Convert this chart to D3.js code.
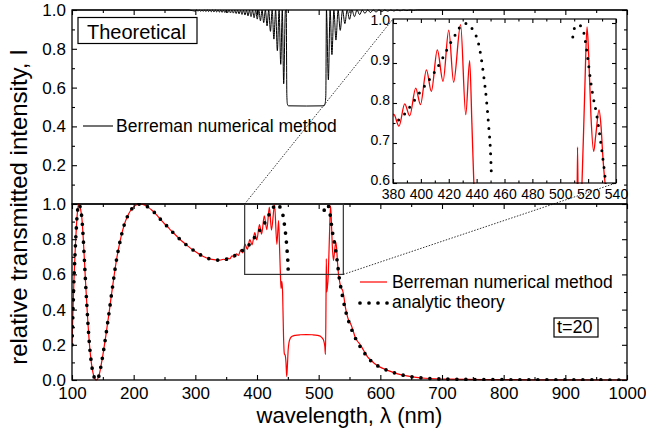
<!DOCTYPE html>
<html>
<head>
<meta charset="utf-8">
<script src="https://cdn.jsdelivr.net/npm/d3@7"></script>
<style>
  body { margin: 0; background: #fff; }
  svg { font-family: Arial, "Liberation Sans", sans-serif; }
</style>
</head>
<body>
<svg id="chart" width="646" height="437"></svg>
<script>
// ---- data ----
// top panel: Berreman numerical method, theoretical curve [wavelength nm, I]
const berremanTheory = [
  [100,1],[290,1],
  [300,0.994],[302.2,1],[304.3,0.994],[306.5,1],[308.6,0.993],[310.8,1],[312.9,0.993],[315,1],
  [317.2,0.992],[319.4,1],[321.5,0.992],[323.7,1],[325.8,0.991],[328,1],[330.2,0.99],[332.4,1],
  [334.6,0.99],[336.8,1],[339,0.989],[341.2,1],[343.4,0.988],[345.6,1],[347.9,0.987],[350.2,1],
  [352.4,0.986],[354.7,1],[357,0.985],[359.3,1],[361.6,0.984],[363.9,1],[366.2,0.982],[368.5,1],
  [370.9,0.98],[373.3,1],[375.7,0.977],[378.1,1],[380.5,0.974],[383,1],[385.4,0.97],[387.9,1],
  [390.3,0.966],[392.8,1],[395.3,0.96],[397.9,1],[400.4,0.953],[403,1],[405.6,0.944],[408.2,1],
  [410.9,0.935],[413.6,1],[416.3,0.918],[419,1],[421.8,0.89],[424.6,1],[427.4,0.85],[430.2,1],
  [433,0.79],[435.8,1],[438.5,0.72],[441,1],[443.3,0.62],[446,0.995],[447.4,1],[448.4,0.56],
  [449.3,0.515],[451,0.506],[480,0.505],[508.5,0.506],[510.3,0.515],[511.6,0.56],[512.6,1],
  [515.7,0.64],[518.6,1],[521.5,0.77],[524.7,1],[528,0.845],[531.5,1],[535,0.895],[538.7,1],
  [542.5,0.93],[546.2,1],[550,0.952],[554,1],[558,0.966],[562.2,1],[566.5,0.976],[570.7,1],
  [575,0.983],[579.5,1],[584,0.987],[588.5,1],[593,0.99],[597.7,1],[602.5,0.992],[607.2,1],
  [612,0.994],[617,1],[622,0.995],[627,1],[632,0.996],[637.5,1],[643,0.997],[648.5,1],
  [654,0.998],[660,1],[700,1],[1000,1]
];

// bottom panel: Berreman numerical method (red)
const berremanNumeric = [
  [100,0.2],[101,0.32],[102,0.44],[103,0.55],[104,0.64],[105,0.72],[106,0.8],[107,0.86],
  [108,0.92],[109,0.96],[110,0.99],[111,1],[112,0.995],[114,0.97],[116,0.92],[118,0.82],
  [120,0.69],[122,0.555],[124,0.43],[126,0.315],[128,0.215],[130,0.14],[132,0.082],[134,0.042],
  [136,0.016],[138,0.003],[140,0],[142,0.008],[144,0.028],[146,0.06],[148,0.1],[150,0.14],
  [152,0.185],[155,0.255],[158,0.33],[161,0.405],[164,0.485],[167,0.56],[170,0.635],[173,0.7],
  [176,0.755],[180,0.82],[185,0.885],[190,0.93],[195,0.963],[200,0.984],[205,0.996],[210,1],
  [215,0.998],[220,0.99],[225,0.978],[230,0.963],[235,0.947],[240,0.927],[245,0.907],[250,0.888],
  [255,0.871],[260,0.852],[265,0.834],[270,0.817],[275,0.8],[280,0.784],[285,0.769],[290,0.755],
  [295,0.742],[300,0.73],[305,0.718],[310,0.708],[315,0.699],[320,0.692],[325,0.687],[330,0.684],
  [335,0.682],[340,0.681],[345.5,0.686],[349,0.683],[352.5,0.692],[356,0.688],[359.5,0.706],
  [363,0.698],[366.5,0.717],[370,0.708],[373.5,0.738],[377,0.722],[380.5,0.772],[384.3,0.742],
  [388.4,0.798],[392,0.768],[396.3,0.837],[399.7,0.796],[404,0.883],[407.5,0.829],[411.8,0.933],
  [415.9,0.854],[420,0.982],[423.5,0.852],[428.5,0.996],[432.2,0.771],[435,0.906],[436.6,0.75],
  [438,0.6],[439,0.52],[440.3,0.56],[441.5,0.5],[443,0.25],[444.3,0.15],[445.8,0.14],[447,0.1],
  [448.2,0.02],[449.3,0.08],[450.5,0.17],[452,0.215],[454,0.237],[457,0.248],[462,0.254],
  [470,0.257],[480,0.258],[490,0.257],[498,0.254],[503,0.248],[506,0.238],[508.5,0.22],[510,0.19],
  [511,0.145],[511.8,0.4],[512.4,0.69],[513,0.5],[514,0.52],[515.6,0.6],[517.5,0.82],[519.2,0.99],
  [520.4,0.92],[522,0.77],[524,0.679],[525.5,0.72],[527.8,0.783],[529.3,0.74],[530.5,0.67],
  [532,0.605],[533.5,0.57],[535,0.54],[537,0.52],[539,0.508],[541,0.47],[543,0.42],[546,0.37],
  [549,0.335],[552,0.318],[555,0.29],[559,0.245],[563,0.22],[567,0.203],[571,0.18],[576,0.15],
  [580,0.128],[585,0.112],[590,0.095],[598,0.076],[613,0.053],[628,0.035],[643,0.023],[658,0.015],
  [673,0.01],[690,0.007],[710,0.005],[740,0.003],[780,0.002],[850,0.001],[1000,0]
];

// bottom panel: analytic theory (dotted), split by the band gap
const analyticLeft = [
  [100,0.2],[101,0.32],[102,0.44],[103,0.55],[104,0.64],[105,0.72],[106,0.8],[107,0.86],
  [108,0.92],[109,0.96],[110,0.99],[111,1],[112,0.995],[114,0.97],[116,0.92],[118,0.82],
  [120,0.69],[122,0.555],[124,0.43],[126,0.315],[128,0.215],[130,0.14],[132,0.082],[134,0.042],
  [136,0.016],[138,0.003],[140,0],[142,0.008],[144,0.028],[146,0.06],[148,0.1],[150,0.14],
  [152,0.185],[155,0.255],[158,0.33],[161,0.405],[164,0.485],[167,0.56],[170,0.635],[173,0.7],
  [176,0.755],[180,0.82],[185,0.885],[190,0.93],[195,0.963],[200,0.984],[205,0.996],[210,1],
  [215,0.998],[220,0.99],[225,0.978],[230,0.963],[235,0.947],[240,0.927],[245,0.907],[250,0.888],
  [255,0.871],[260,0.852],[265,0.834],[270,0.817],[275,0.8],[280,0.784],[285,0.769],[290,0.755],
  [295,0.742],[300,0.73],[305,0.718],[310,0.708],[315,0.699],[320,0.692],[325,0.687],[330,0.684],
  [335,0.682],[340,0.681],[345,0.682],[350,0.686],[355,0.692],[360,0.7],[365,0.709],[370,0.72],
  [375,0.733],[380,0.748],[385,0.76],[390,0.78],[395,0.805],[400,0.83],[405,0.853],[410,0.878],
  [415,0.908],[420,0.942],[425,0.972],[430,0.997],[433,0.999],[436,0.99],[438,0.978],[441,0.954],
  [443.4,0.91],[445.1,0.867],[447,0.81],[448.7,0.74],[449.9,0.683],[450.7,0.61]
];
const analyticRight = [
  [509,0.965],[510.3,0.988],[512.7,0.996],[515.9,0.988],[518.2,0.95],[520,0.905],[521.6,0.86],
  [523.5,0.817],[525.9,0.775],[527.8,0.733],[529.5,0.69],[531,0.65],[533,0.59],[535,0.545],
  [537,0.505],[539,0.47],[541,0.435],[545,0.375],[550,0.32],[556,0.265],[563,0.215],[572,0.165],
  [583,0.115],[598,0.076],[613,0.053],[628,0.035],[643,0.023],[658,0.015],[673,0.01],[690,0.007],
  [710,0.005],[740,0.003],[780,0.002],[850,0.001],[1000,0]
];

// ticks
const xTicks = [100,200,300,400,500,600,700,800,900,1000];
const xMinor = [150,250,350,450,550,650,750,850,950];
const yBotTicks = [0,0.2,0.4,0.6,0.8,1.0];
const yTopTicks = [0.2,0.4,0.6,0.8,1.0];
const yMinor = [0.1,0.3,0.5,0.7,0.9];
const xInTicks = [380,400,420,440,460,480,500,520,540];
const xInMinor = [390,410,430,450,470,490,510,530];
const yInTicks = [0.6,0.7,0.8,0.9,1.0];
const yInMinor = [0.65,0.75,0.85,0.95];
const zoomBox = { x0: 380, x1: 540, y0: 0.6, y1: 1.0 };

// ---- scales ----
const svg = d3.select("#chart");
const x = d3.scaleLinear().domain([100, 1000]).range([72, 627]);
const yTop = d3.scaleLinear().domain([0, 1]).range([204, 10]);
const yBot = d3.scaleLinear().domain([0, 1]).range([380, 204]);
const xIn = d3.scaleLinear().domain([380, 540]).range([393, 616]);
const yIn = d3.scaleLinear().domain([0.6, 1.01]).range([183, 19]);

const defs = svg.append("defs");
function clip(id, xs, ys) {
  const [a, b] = xs.range(), [c, d] = ys.range();
  defs.append("clipPath").attr("id", id).append("rect")
    .attr("x", a).attr("y", d - 1).attr("width", b - a).attr("height", c - d + 2);
}
clip("clipTop", x, yTop);
clip("clipBot", x, yBot);
clip("clipIn", xIn, yIn);

const lineTop = d3.line().x(d => x(d[0])).y(d => yTop(d[1])).curve(d3.curveMonotoneX);
const lineBot = d3.line().x(d => x(d[0])).y(d => yBot(d[1])).curve(d3.curveMonotoneX);
const lineIn = d3.line().x(d => xIn(d[0])).y(d => yIn(d[1])).curve(d3.curveMonotoneX);

function axis(gen, tr, size, values, fmt, pad, font) {
  const g = svg.append("g").attr("transform", tr)
    .call(gen.tickValues(values).tickSize(size).tickPadding(pad || 0).tickFormat(fmt || (() => "")));
  g.select(".domain").remove();
  g.attr("font-family", null).attr("font-size", font || 17);
  g.selectAll("line").attr("stroke", "#000").attr("stroke-width", 1.1);
  g.selectAll("text").attr("fill", "#000");
  return g;
}
const f1 = d3.format(".1f");

// ---- top panel ----
svg.append("path").datum(berremanTheory)
  .attr("clip-path", "url(#clipTop)")
  .attr("fill", "none").attr("stroke", "#000").attr("stroke-width", 1)
  .attr("d", lineTop);

svg.append("rect").attr("x", 72).attr("y", 10).attr("width", 555).attr("height", 194)
  .attr("fill", "none").attr("stroke", "#000").attr("stroke-width", 1.3);
axis(d3.axisLeft(yTop), "translate(72,0)", -5, yTopTicks, f1, 6);
axis(d3.axisLeft(yTop), "translate(72,0)", -3, yMinor);
axis(d3.axisRight(yTop), "translate(627,0)", -5, yTopTicks);
axis(d3.axisRight(yTop), "translate(627,0)", -3, yMinor);
axis(d3.axisTop(x), "translate(0,10)", -5, xTicks);
axis(d3.axisTop(x), "translate(0,10)", -3, xMinor);

// ---- inset ----
svg.append("rect").attr("x", xIn(380)).attr("y", yIn(1.01))
  .attr("width", xIn(540) - xIn(380)).attr("height", yIn(0.6) - yIn(1.01))
  .attr("fill", "#fff");
svg.append("path").datum(berremanNumeric)
  .attr("clip-path", "url(#clipIn)")
  .attr("fill", "none").attr("stroke", "#ff0000").attr("stroke-width", 1.3)
  .attr("d", lineIn);
[analyticLeft, analyticRight].forEach(seg => {
  svg.append("path").datum(seg)
    .attr("clip-path", "url(#clipIn)")
    .attr("fill", "none").attr("stroke", "#000").attr("stroke-width", 3)
    .attr("stroke-linecap", "round").attr("stroke-dasharray", "0 8.5")
    .attr("d", lineIn);
});
svg.append("rect").attr("x", xIn(380)).attr("y", yIn(1.01))
  .attr("width", xIn(540) - xIn(380)).attr("height", yIn(0.6) - yIn(1.01))
  .attr("fill", "none").attr("stroke", "#000").attr("stroke-width", 1.2);
axis(d3.axisBottom(xIn), `translate(0,${yIn(0.6)})`, -4, xInTicks, d3.format("d"), 6, 14);
axis(d3.axisBottom(xIn), `translate(0,${yIn(0.6)})`, -2.5, xInMinor);
axis(d3.axisTop(xIn), `translate(0,${yIn(1.01)})`, -4, xInTicks);
axis(d3.axisTop(xIn), `translate(0,${yIn(1.01)})`, -2.5, xInMinor);
axis(d3.axisLeft(yIn), `translate(${xIn(380)},0)`, -4, yInTicks, f1, 3, 14)
  .selectAll("text").attr("dy", "0.1em");
axis(d3.axisLeft(yIn), `translate(${xIn(380)},0)`, -2.5, yInMinor);
axis(d3.axisRight(yIn), `translate(${xIn(540)},0)`, -4, yInTicks);
axis(d3.axisRight(yIn), `translate(${xIn(540)},0)`, -2.5, yInMinor);

// ---- bottom panel ----
svg.append("path").datum(berremanNumeric)
  .attr("clip-path", "url(#clipBot)")
  .attr("fill", "none").attr("stroke", "#ff0000").attr("stroke-width", 1.2)
  .attr("d", lineBot);
[analyticLeft, analyticRight].forEach(seg => {
  svg.append("path").datum(seg)
    .attr("clip-path", "url(#clipBot)")
    .attr("fill", "none").attr("stroke", "#000").attr("stroke-width", 3.7)
    .attr("stroke-linecap", "round").attr("stroke-dasharray", "0 9")
    .attr("d", lineBot);
});

svg.append("rect").attr("x", 72).attr("y", 204).attr("width", 555).attr("height", 176)
  .attr("fill", "none").attr("stroke", "#000").attr("stroke-width", 1.3);
axis(d3.axisBottom(x), "translate(0,380)", -5, xTicks, d3.format("d"), 7);
axis(d3.axisBottom(x), "translate(0,380)", -3, xMinor);
axis(d3.axisTop(x), "translate(0,204)", -5, xTicks);
axis(d3.axisTop(x), "translate(0,204)", -3, xMinor);
axis(d3.axisLeft(yBot), "translate(72,0)", -5, yBotTicks, f1, 6);
axis(d3.axisLeft(yBot), "translate(72,0)", -3, yMinor);
axis(d3.axisRight(yBot), "translate(627,0)", -5, yBotTicks);
axis(d3.axisRight(yBot), "translate(627,0)", -3, yMinor);

// zoom box and connectors
svg.append("rect")
  .attr("x", x(zoomBox.x0)).attr("y", yBot(zoomBox.y1))
  .attr("width", x(zoomBox.x1) - x(zoomBox.x0)).attr("height", yBot(zoomBox.y0) - yBot(zoomBox.y1))
  .attr("fill", "none").attr("stroke", "#333").attr("stroke-width", 1.2);
svg.append("line")
  .attr("x1", x(zoomBox.x0)).attr("y1", yBot(zoomBox.y1))
  .attr("x2", xIn(380)).attr("y2", yIn(1.01))
  .attr("stroke", "#000").attr("stroke-width", 0.8).attr("stroke-dasharray", "1.5,1.5");
svg.append("line")
  .attr("x1", x(zoomBox.x1)).attr("y1", yBot(zoomBox.y0))
  .attr("x2", xIn(540)).attr("y2", yIn(0.6))
  .attr("stroke", "#000").attr("stroke-width", 0.8).attr("stroke-dasharray", "1.5,1.5");

// ---- legends and labels ----
svg.append("rect").attr("x", 78).attr("y", 17.5).attr("width", 119).attr("height", 26)
  .attr("fill", "#fff").attr("stroke", "#000").attr("stroke-width", 1.2);
svg.append("text").attr("x", 87).attr("y", 38.5).attr("font-size", 20).text("Theoretical");

svg.append("line").attr("x1", 83).attr("x2", 113).attr("y1", 126).attr("y2", 126)
  .attr("stroke", "#000").attr("stroke-width", 1.1);
svg.append("text").attr("x", 116).attr("y", 132).attr("font-size", 17.5).text("Berreman numerical method");

svg.append("line").attr("x1", 360).attr("x2", 387).attr("y1", 282).attr("y2", 282)
  .attr("stroke", "#ff0000").attr("stroke-width", 1.2);
svg.append("text").attr("x", 392).attr("y", 288).attr("font-size", 17.5).text("Berreman numerical method");
svg.append("line").attr("x1", 360).attr("x2", 388).attr("y1", 303).attr("y2", 303)
  .attr("stroke", "#000").attr("stroke-width", 3.7)
  .attr("stroke-linecap", "round").attr("stroke-dasharray", "0 9");
svg.append("text").attr("x", 392).attr("y", 308).attr("font-size", 17.5).text("analytic theory");

svg.append("rect").attr("x", 554).attr("y", 318).attr("width", 44).attr("height", 19)
  .attr("fill", "#fff").attr("stroke", "#000").attr("stroke-width", 1.2);
svg.append("text").attr("x", 557).attr("y", 332.5).attr("font-size", 18).text("t=20");

svg.append("text")
  .attr("transform", "rotate(-90)")
  .attr("x", -207).attr("y", 27)
  .attr("text-anchor", "middle").attr("font-size", 24)
  .text("relative transmitted intensity, I");
svg.append("text")
  .attr("x", (x.range()[0] + x.range()[1]) / 2).attr("y", 423)
  .attr("text-anchor", "middle").attr("font-size", 22)
  .text("wavelength, λ (nm)");
</script>
</body>
</html>
